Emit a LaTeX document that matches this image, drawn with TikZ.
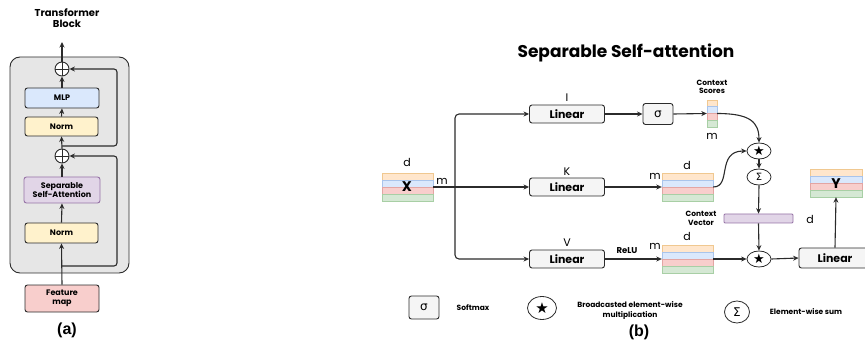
\documentclass[tikz,border=0pt]{standalone}
\usepackage{fontspec}
\setmainfont{Poppins}
\newfontfamily\dejavu{DejaVu Sans}
\newfontfamily\arialf{Liberation Sans}
\usetikzlibrary{arrows.meta,shapes.geometric}

\definecolor{ln}{HTML}{2B2B2B}
\definecolor{orF}{HTML}{FFE6CC}\definecolor{orD}{HTML}{F0C890}
\definecolor{blF}{HTML}{DAE8FC}\definecolor{blD}{HTML}{A9C4EB}
\definecolor{reF}{HTML}{F8CECC}\definecolor{reD}{HTML}{E3A5A3}
\definecolor{grF}{HTML}{D5E8D4}\definecolor{grD}{HTML}{A8CFA5}
\definecolor{puF}{HTML}{E1D5E7}\definecolor{puD}{HTML}{9673A6}
\definecolor{yeF}{HTML}{FFF2CC}
\definecolor{boxF}{HTML}{F5F5F5}
\definecolor{outerF}{HTML}{E6E6E6}

\tikzset{
  arr/.style={-{Stealth[length=5.5pt,width=5pt]}, line width=1.1pt, draw=ln},
  wire/.style={line width=1.1pt, draw=ln},
  blk/.style={draw=ln, line width=0.9pt, rounded corners=2.5pt, inner sep=0pt, align=center},
  linbox/.style={blk, fill=boxF, minimum width=75pt, minimum height=18pt, font=\fontsize{11}{12}\selectfont\bfseries},
  abox/.style={blk, minimum width=74pt, minimum height=20pt, font=\fontsize{8}{9.5}\selectfont\bfseries},
  opcirc/.style={ellipse, draw=ln, line width=0.8pt, fill=white, minimum width=24pt, minimum height=16pt, inner sep=0pt, font=\dejavu\fontsize{13}{13}\selectfont},
  legcirc/.style={ellipse, draw=ln, line width=0.8pt, fill=white, minimum width=29pt, minimum height=23pt, inner sep=0pt, font=\dejavu\fontsize{15}{15}\selectfont},
  pluscirc/.style={circle, draw=ln, line width=0.9pt, fill=white, minimum size=14pt, inner sep=0pt,
    path picture={\draw[line width=0.9pt, draw=ln] (path picture bounding box.north) -- (path picture bounding box.south)
      (path picture bounding box.west) -- (path picture bounding box.east);}},
  lbl/.style={inner sep=0pt, align=center},
  dimlbl/.style={lbl, font=\fontsize{11}{12}\selectfont},
  smalllbl/.style={lbl, font=\fontsize{7.5}{8.5}\selectfont\bfseries},
  leglbl/.style={lbl, font=\fontsize{7.5}{10}\selectfont\bfseries},
  caplbl/.style={lbl, font=\arialf\fontsize{16}{18}\selectfont\bfseries}
}

\newcommand\stripmat[5]{%
  \foreach \cc [count=\i from 0] in {or,bl,re,gr}{%
    \draw[draw=\cc D, fill=\cc F, line width=0.6pt] (#2,#3+\i*#5) rectangle ++(#4,#5);}%
  \node[inner sep=0pt, minimum width=#4pt, minimum height=4*#5pt] (#1) at (#2+#4/2, #3+2*#5) {};%
}

\begin{document}
\begin{tikzpicture}[x=1pt,y=-1pt]
\path[use as bounding box] (0,0) rectangle (865,358);
\clip (0,0) rectangle (865,358);

% ---------------- (a) ----------------
\node[lbl, font=\fontsize{10}{11.5}\selectfont\bfseries] (tbt) at (67,18) {Transformer\\Block};
\draw[draw=ln, line width=0.9pt, fill=outerF, rounded corners=10pt] (10,57) rectangle (129,273);
\node[abox, fill=reF, minimum height=27pt] (fm) at (62,298.5) {Feature\\map};
\node[abox, fill=yeF, minimum width=73pt] (n1) at (61.5,233) {Norm};
\node[abox, fill=puF, draw=puD, minimum width=76pt, minimum height=26pt] (ssa) at (62,190) {Separable\\Self-Attention};
\node[pluscirc] (p1) at (62,156) {};
\node[abox, fill=yeF, minimum width=73pt, minimum height=19pt] (n2) at (61.5,126.5) {Norm};
\node[abox, fill=blF] (mlp) at (62,98) {MLP};
\node[pluscirc] (p2) at (62,69) {};
\coordinate (aout) at (62,42);
\coordinate (r1) at (62,266);
\coordinate (r2) at (62,146);

\draw[arr] (fm.north) -- (n1.south);
\draw[arr] (n1.north) -- (ssa.south);
\draw[arr] (ssa.north) -- (p1.south);
\draw[arr] (p1.north) -- (n2.south);
\draw[arr] (n2.north) -- (mlp.south);
\draw[arr] (mlp.north) -- (p2.south);
\draw[arr] (p2.north) -- (aout);
\draw[arr, rounded corners=3pt] (r1) -- (117,266) -- (117,156) -- (p1.east);
\draw[arr, rounded corners=3pt] (r2) -- (117,146) -- (117,69) -- (p2.east);

\node[caplbl] (capa) at (67,330) {(a)};

% ---------------- (b) ----------------
\node[lbl, font=\fontsize{17}{19}\selectfont\bfseries] (title) at (626,53) {Separable Self-attention};

% input X
\stripmat{X}{382}{173}{51}{7}
\node[lbl, font=\fontsize{14}{15}\selectfont\bfseries] (xl) at (407,187) {X};
\node[dimlbl] (xd) at (407,162) {d};
\node[dimlbl] (xm) at (442,181) {m};

% Linear boxes
\node[linbox] (Il) at (567,114) {Linear};
\node[linbox] (Kl) at (567,187) {Linear};
\node[linbox] (Vl) at (567,259) {Linear};
\node[dimlbl] (il) at (567,98) {I};
\node[dimlbl] (kl) at (567,172) {K};
\node[dimlbl] (vl) at (567,243) {V};

\coordinate (jn) at (455,187);
\draw[wire] (X.east) -- (jn);
\draw[arr] (jn) -- (Kl.west);
\draw[arr, rounded corners=4pt] (jn) |- (Il.west);
\draw[arr, rounded corners=4pt] (jn) |- (Vl.west);

% softmax branch
\node[blk, fill=boxF, minimum width=30pt, minimum height=21pt, font=\dejavu\fontsize{12}{12}\selectfont] (sm) at (658,114) {σ};
\draw[arr] (Il.east) -- (sm.west);
\stripmat{CS}{707}{100}{10}{6.75}
\draw[arr] (sm.east) -- (CS.west);
\node[smalllbl] (csl) at (712,87) {Context\\Scores};
\node[dimlbl] (csm) at (712,136) {m};

% K matrix
\stripmat{KM}{662}{173}{51}{7}
\node[dimlbl] (kd) at (687,165) {d};
\node[dimlbl] (km) at (655,176) {m};
\draw[arr] (Kl.east) -- (KM.west);

% V matrix
\stripmat{VM}{662}{245}{51}{7}
\node[dimlbl] (vd) at (687,236) {d};
\node[dimlbl] (vm) at (655,246) {m};
\node[lbl, font=\fontsize{8.5}{10}\selectfont\bfseries] (relu) at (627,251) {ReLU};
\draw[arr] (Vl.east) -- (VM.west);

% operators
\node[opcirc] (ts) at (759,151) {★};
\node[opcirc, font=\dejavu\fontsize{10}{10}\selectfont] (sc) at (759,177) {Σ};
\node[opcirc] (bs) at (759,259) {★};
\draw[arr] (CS.east) .. controls (750,113.5) and (759,122) .. (ts.north);
\draw[arr] (KM.east) .. controls (732,187) and (716,151) .. (ts.west);
\draw[arr] (ts.south) -- (sc.north);

% context vector
\node[draw=puD, fill=puF, line width=0.8pt, rounded corners=1pt, minimum width=69pt, minimum height=9pt, inner sep=0pt] (cv) at (758.5,218.5) {};
\node[smalllbl] (cvl) at (701,218.5) {Context\\Vector};
\node[dimlbl] (cvd) at (810,219) {d};
\draw[arr] (sc.south) -- (cv.north);
\draw[arr] (cv.south) -- (bs.north);
\draw[arr] (VM.east) -- (bs.west);

% output
\node[linbox, minimum width=72pt, minimum height=20pt] (fl) at (835,258) {Linear};
\draw[arr] (bs.east) -- (fl.west);
\stripmat{Y}{810}{169}{52}{7}
\node[lbl, font=\fontsize{14}{15}\selectfont\bfseries] (yl) at (836,184) {Y};
\draw[arr] (fl.north) -- (Y.south);

% legend
\node[blk, fill=boxF, minimum width=30pt, minimum height=23pt, font=\dejavu\fontsize{12}{12}\selectfont] (lsm) at (424,307.5) {σ};
\node[leglbl] (lsmt) at (473,308) {Softmax};
\node[legcirc] (lst) at (542,308) {★};
\node[leglbl] (lstt) at (630,310) {Broadcasted element-wise\\multiplication};
\node[legcirc, minimum width=25pt, minimum height=22pt, font=\dejavu\fontsize{12}{12}\selectfont] (lsu) at (737,312) {Σ};
\node[leglbl] (lsut) at (806,312) {Element-wise sum};

\node[caplbl] (capb) at (639,332) {(b)};
\end{tikzpicture}
\end{document}
